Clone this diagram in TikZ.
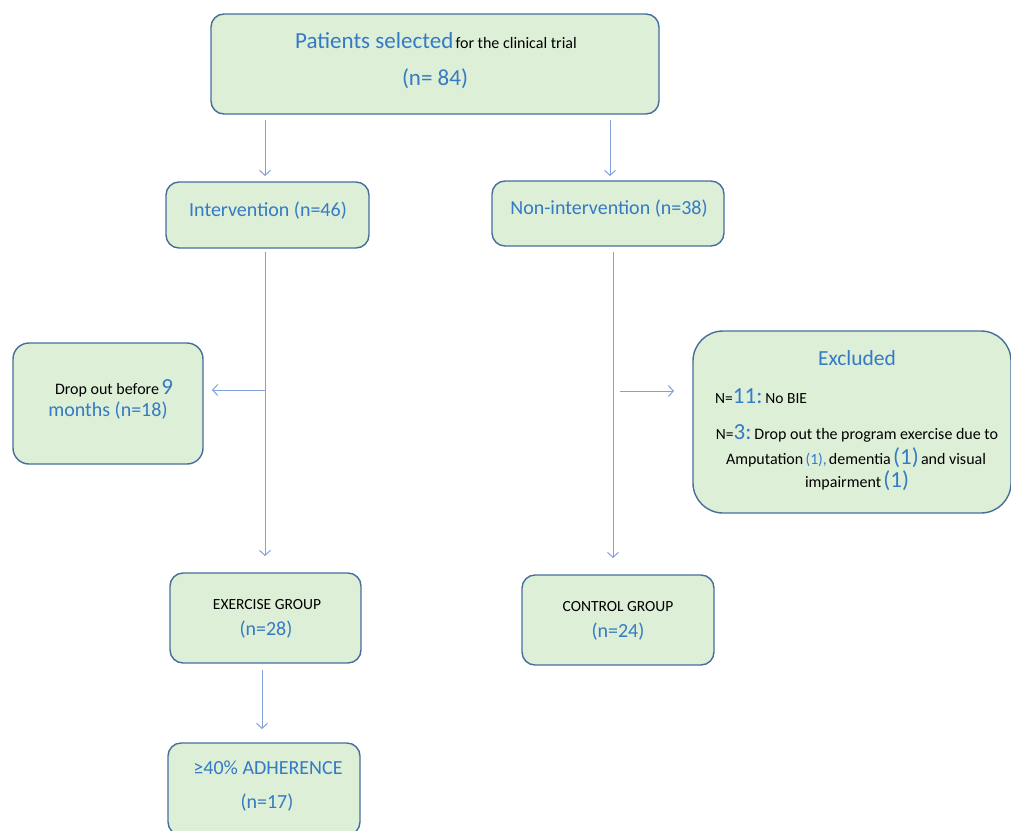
\documentclass[tikz,border=0pt]{standalone}
\usepackage{fontspec}
\setmainfont{Carlito}
\usetikzlibrary{arrows.meta}
\definecolor{boxfill}{RGB}{221,239,215}
\definecolor{boxline}{RGB}{70,110,155}
\definecolor{arrowc}{RGB}{130,160,218}
\definecolor{tblue}{RGB}{52,122,196}
\tikzset{
  box/.style={draw=boxline, fill=boxfill, line width=1.4pt, rounded corners=13pt, inner sep=0pt},
  flow/.style={draw=arrowc, line width=1pt, -{Straight Barb[length=5pt,width=11pt]}},
  txt/.style={inner sep=0pt, align=center, text=black},
}
\newcommand{\bl}[2]{{\fontsize{#1}{#1}\selectfont\color{tblue}#2}}
\newcommand{\bk}[2]{{\fontsize{#1}{#1}\selectfont\color{black}#2}}
\begin{document}
\begin{tikzpicture}[x=1pt,y=-1pt]
\useasboundingbox (0,0) rectangle (1011,830);
% boxes
\node[box, minimum width=448pt, minimum height=100pt] (top) at (435,64) {};
\node[box, minimum width=203pt, minimum height=66pt] (int) at (267.5,215) {};
\node[box, minimum width=232pt, minimum height=65pt] (nonint) at (608,213.5) {};
\node[box, minimum width=190pt, minimum height=121pt, rounded corners=16pt] (drop) at (108,403.5) {};
\node[box, minimum width=318pt, minimum height=182pt, rounded corners=30pt] (excl) at (852,422) {};
\node[box, minimum width=191pt, minimum height=90pt] (ex) at (265.5,618) {};
\node[box, minimum width=192pt, minimum height=90pt] (ctrl) at (618,620) {};
\node[box, minimum width=192pt, minimum height=92pt] (adh) at (264,789) {};
% texts
\node[txt] (t1) at (436,41) {\bl{23}{Patients selected} \bk{16}{for the clinical trial}};
\node[txt] (t2) at (435,79) {\bl{23}{(n= 84)}};
\node[txt] (t3) at (268,211) {\bl{20}{Intervention (n=46)}};
\node[txt] (t4) at (609,209) {\bl{20}{Non-intervention (n=38)}};
\node[txt] (t5) at (114,388) {\bk{16}{Drop out before} \bl{23}{9}};
\node[txt] (t6) at (108,411) {\bl{20}{months (n=18)}};
\node[txt] (t7) at (857,358) {\bl{21.5}{Excluded}};
\node[txt, anchor=west] (t8) at (715,396) {\bk{15.5}{N=}\bl{23}{11:} \bk{15.5}{No BIE}};
\node[txt] (t9) at (857,433) {\bk{15.5}{N=}\bl{23}{3:} \bk{16}{Drop out the program exercise due to}};
\node[txt] (t10) at (856,458) {\bk{16}{Amputation} \bl{15.5}{(1),} \bk{16}{dementia} \bl{23}{(1)} \bk{16}{and visual}};
\node[txt] (t11) at (857,481) {\bk{16}{impairment} \bl{23}{(1)}};
\node[txt] (t12) at (267,605) {\bk{15.5}{EXERCISE GROUP}};
\node[txt] (t13) at (266,630) {\bl{20}{(n=28)}};
\node[txt] (t14) at (618,607) {\bk{15.5}{CONTROL GROUP}};
\node[txt] (t15) at (618,632) {\bl{20}{(n=24)}};
\node[txt] (t16) at (268,768) {\bl{20}{≥40\% ADHERENCE}};
\node[txt] (t17) at (267,803) {\bl{20}{(n=17)}};
% connector coordinates
\coordinate (a1s) at (265,120); \coordinate (a1e) at (265,176);
\coordinate (a2s) at (610,120); \coordinate (a2e) at (610,176);
\coordinate (a3s) at (265,252); \coordinate (a3e) at (265,556);
\coordinate (a4s) at (265,390); \coordinate (a4e) at (212,390);
\coordinate (a5s) at (613,252); \coordinate (a5e) at (613,558);
\coordinate (a6s) at (620,391); \coordinate (a6e) at (674,391);
\coordinate (a7s) at (262,670); \coordinate (a7e) at (262,729);
\draw[flow] (a1s) -- (a1e);
\draw[flow] (a2s) -- (a2e);
\draw[flow] (a3s) -- (a3e);
\draw[flow] (a4s) -- (a4e);
\draw[flow] (a5s) -- (a5e);
\draw[flow] (a6s) -- (a6e);
\draw[flow] (a7s) -- (a7e);
\end{tikzpicture}
\end{document}
